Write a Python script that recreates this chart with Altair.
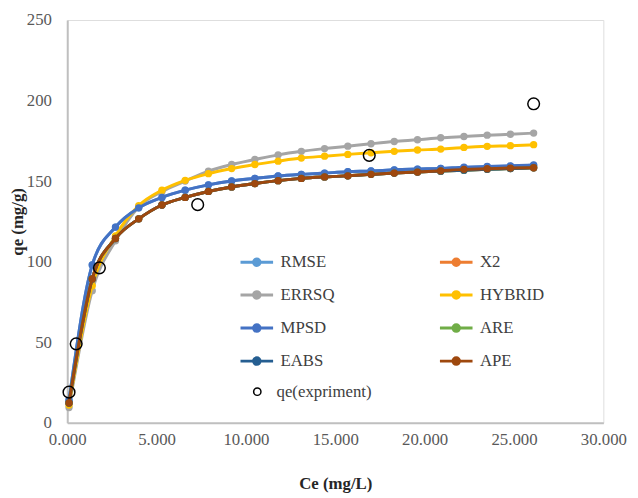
import altair as alt
import pandas as pd

# ---- data ----
ce = [0.1, 1.4, 2.7, 4.0, 5.3, 6.6, 7.9, 9.2, 10.5, 11.8, 13.1, 14.4, 15.7,
      17.0, 18.3, 19.6, 20.9, 22.2, 23.5, 24.8, 26.1]

rmse = [14.0, 98.0, 121.5, 133.4, 139.9, 144.4, 147.7, 150.1, 151.7, 153.2, 154.2,
        155.0, 155.8, 156.3, 157.0, 157.5, 157.9, 158.4, 158.9, 159.3, 159.8]
x2 = [12.3, 89.3, 114.4, 126.6, 135.2, 139.9, 143.6, 146.4, 148.5, 150.3, 151.7,
      152.6, 153.3, 154.2, 155.0, 155.6, 156.2, 156.8, 157.3, 157.8, 158.3]
errsq = [9.5, 82.0, 113.0, 134.0, 143.5, 150.0, 156.2, 160.3, 163.4, 166.3, 168.5,
         170.2, 171.7, 173.2, 174.6, 175.7, 176.9, 177.7, 178.5, 179.1, 179.8]
hybrid = [11.0, 85.0, 116.0, 134.8, 144.4, 150.5, 154.6, 157.8, 160.3, 162.4, 164.3,
          165.5, 166.6, 167.6, 168.5, 169.3, 169.9, 170.9, 171.6, 172.0, 172.6]
mpsd = [14.0, 98.0, 121.5, 133.4, 139.9, 144.4, 147.7, 150.1, 151.7, 153.2, 154.2,
        155.0, 155.8, 156.3, 157.0, 157.5, 157.9, 158.7, 159.1, 159.5, 160.0]
are = [12.3, 89.3, 114.4, 126.6, 135.2, 139.9, 143.6, 146.4, 148.5, 150.3, 151.7,
       152.6, 153.3, 154.2, 155.0, 155.6, 156.2, 156.8, 157.3, 157.8, 158.3]
eabs = [12.3, 89.3, 114.4, 126.6, 135.2, 139.9, 143.6, 146.4, 148.5, 150.3, 151.7,
        152.6, 153.3, 154.2, 155.0, 155.6, 156.2, 156.8, 157.3, 157.8, 158.3]
ape = [12.3, 89.3, 114.4, 126.6, 135.2, 139.9, 143.6, 146.4, 148.5, 150.3, 151.7,
       152.6, 153.3, 154.2, 155.0, 155.6, 156.4, 157.3, 157.7, 158.1, 158.3]

exp_ce = [0.1, 0.5, 1.8, 7.3, 16.9, 26.1]
exp_qe = [19.0, 49.0, 96.2, 135.4, 166.0, 198.0]

names = ["RMSE", "X2", "ERRSQ", "HYBRID", "MPSD", "ARE", "EABS", "APE"]
colors = ["#5B9BD5", "#ED7D31", "#A5A5A5", "#FFC000", "#4472C4", "#70AD47",
          "#255E91", "#9E480E"]
series_vals = [rmse, x2, errsq, hybrid, mpsd, are, eabs, ape]

rows = []
for nm, vals in zip(names, series_vals):
    for xv, yv in zip(ce, vals):
        rows.append({"Ce": xv, "qe": yv, "series": nm})
df = pd.DataFrame(rows)
df_exp = pd.DataFrame({"Ce": exp_ce, "qe": exp_qe, "label": ["qe(expriment)"] * len(exp_ce)})

FONT = "Liberation Serif"

x_enc = alt.X("Ce:Q", scale=alt.Scale(domain=[0, 30], nice=False),
              axis=alt.Axis(title="Ce (mg/L)", values=[0, 5, 10, 15, 20, 25, 30],
                            format=".3f", grid=False, ticks=False, labelFlush=False,
                            domainColor="#BFBFBF", domainWidth=2,
                            labelFont=FONT, labelFontSize=17, labelColor="#595959",
                            labelPadding=9, titleFont=FONT, titleFontSize=17,
                            titleFontWeight="bold", titleColor="#262626",
                            titlePadding=29))
y_enc = alt.Y("qe:Q", scale=alt.Scale(domain=[0, 250], nice=False),
              axis=alt.Axis(title="qe (mg/g)", values=[0, 50, 100, 150, 200, 250],
                            grid=False, ticks=False, labelFlush=False,
                            domainColor="#BFBFBF",
                            domainWidth=2, labelFont=FONT, labelFontSize=17,
                            labelColor="#595959", labelPadding=16,
                            titleFont=FONT, titleFontSize=17, titleFontWeight="bold",
                            titleColor="#262626", titlePadding=0))

color_legend = alt.Legend(
    title=None, orient="none", legendX=174, legendY=227, columns=2,
    direction="horizontal",
    symbolType="M-1,0L1,0M0.2,0A0.2,0.2,0,1,1,-0.2,0A0.2,0.2,0,1,1,0.2,0",
    symbolSize=1089, symbolStrokeWidth=3, labelOffset=6, columnPadding=100,
    rowPadding=5.5, labelFont=FONT, labelFontSize=17, labelColor="#404040",
    padding=0)
color_enc = alt.Color("series:N", scale=alt.Scale(domain=names, range=colors),
                      legend=color_legend)

layers = []
for nm in names:
    base = alt.Chart(df).transform_filter(alt.datum.series == nm)
    layers.append(base.mark_line(interpolate="monotone", strokeWidth=3)
                  .encode(x=x_enc, y=y_enc, color=color_enc))
    layers.append(base.mark_circle(size=55, opacity=1)
                  .encode(x=x_enc, y=y_enc, color=color_enc))

exp_layer = alt.Chart(df_exp).mark_point(filled=False, size=140, strokeWidth=1.5,
                                          color="black", opacity=1).encode(
    x=x_enc, y=y_enc,
    shape=alt.Shape("label:N", scale=alt.Scale(range=["circle"]),
                    legend=alt.Legend(title=None, orient="none", legendX=184,
                                      legendY=368, symbolSize=55,
                                      symbolStrokeWidth=1.5, labelOffset=11,
                                      labelFont=FONT, labelFontSize=17,
                                      labelColor="#404040", padding=0)))
layers.append(exp_layer)

chart = alt.layer(*layers).properties(
    width=543, height=408,
    autosize=alt.AutoSizeParams(type="none"),
    padding={"left": 60, "top": 9, "right": 27, "bottom": 73},
).configure_view(stroke="black", strokeWidth=1).configure(background="white")

chart.save("out.html", embed_options={"renderer": "svg", "actions": False})
